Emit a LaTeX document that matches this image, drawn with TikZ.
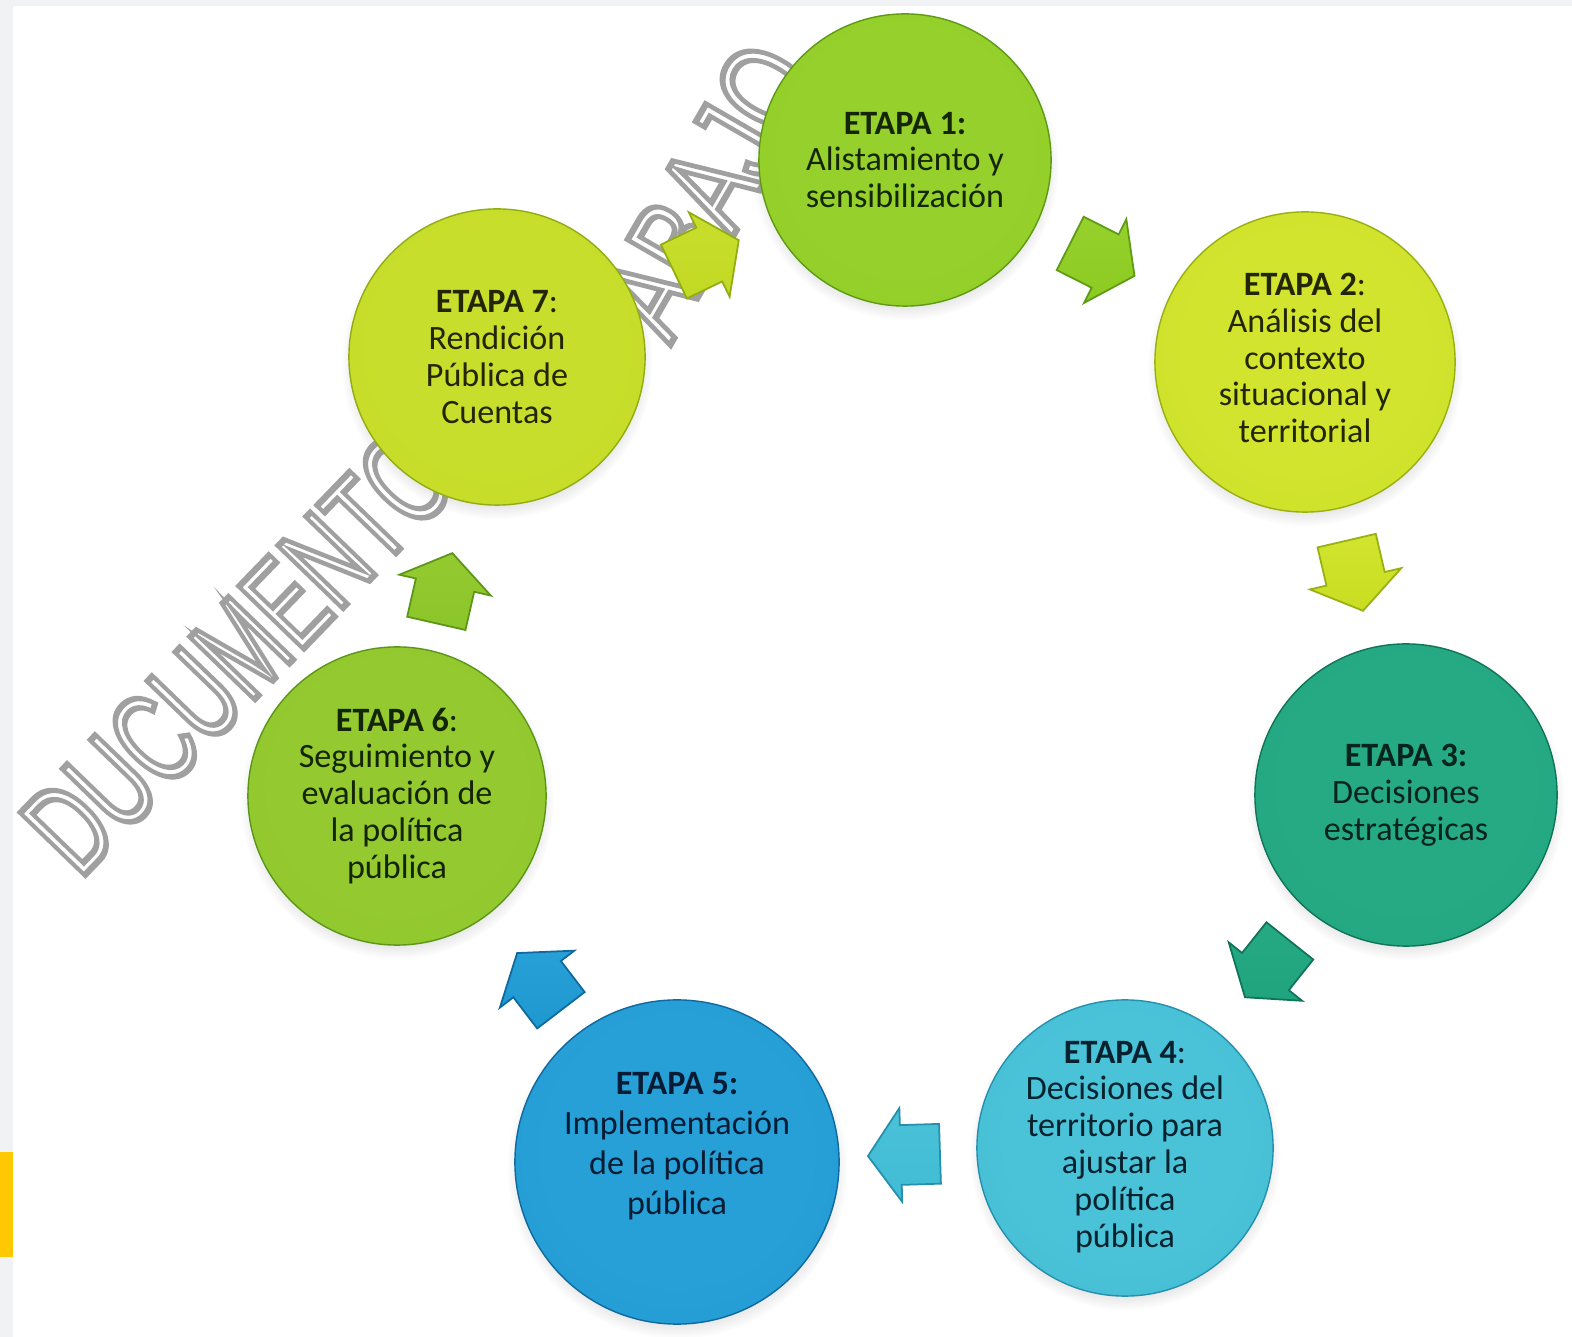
\documentclass[tikz,border=0pt]{standalone}
\usepackage{fontspec}
\setmainfont{Carlito}
\newfontfamily\wmfont{Liberation Sans}
\usetikzlibrary{shapes.arrows,shadows,calc}

\definecolor{pagegray}{HTML}{F1F2F4}
\definecolor{tabyellow}{HTML}{FFC800}
\definecolor{wmgray}{HTML}{A0A0A0}
% stage colours: light, base, dark, text
\definecolor{c1light}{HTML}{96D02C}\definecolor{c1base}{HTML}{8CCB22}\definecolor{c1dark}{HTML}{5E9A14}\definecolor{c1text}{HTML}{142606}
\definecolor{c2light}{HTML}{D2E42E}\definecolor{c2base}{HTML}{C9DE22}\definecolor{c2dark}{HTML}{98B010}\definecolor{c2text}{HTML}{222604}
\definecolor{c3light}{HTML}{26AA84}\definecolor{c3base}{HTML}{1FA47E}\definecolor{c3dark}{HTML}{0F7458}\definecolor{c3text}{HTML}{06241C}
\definecolor{c4light}{HTML}{4AC2D8}\definecolor{c4base}{HTML}{40BCD4}\definecolor{c4dark}{HTML}{2590AE}\definecolor{c4text}{HTML}{06222E}
\definecolor{c5light}{HTML}{26A0D6}\definecolor{c5base}{HTML}{1E98CE}\definecolor{c5dark}{HTML}{10699E}\definecolor{c5text}{HTML}{061C34}
\definecolor{c6light}{HTML}{94CA30}\definecolor{c6base}{HTML}{8CC52A}\definecolor{c6dark}{HTML}{5C9618}\definecolor{c6text}{HTML}{142406}
\definecolor{c7light}{HTML}{C8DE2C}\definecolor{c7base}{HTML}{C2DA24}\definecolor{c7dark}{HTML}{92AC12}\definecolor{c7text}{HTML}{222604}

\newcommand\ballshade[4]{\pgfdeclareradialshading{#1}{\pgfpoint{0bp}{3bp}}{color(0bp)=(#2); color(20bp)=(#2); color(42bp)=(#3); color(47.5bp)=(#4); color(50bp)=(#4)}}
\ballshade{ballA}{c1light}{c1base}{c1dark}
\ballshade{ballB}{c2light}{c2base}{c2dark}
\ballshade{ballC}{c3light}{c3base}{c3dark}
\ballshade{ballD}{c4light}{c4base}{c4dark}
\ballshade{ballE}{c5light}{c5base}{c5dark}
\ballshade{ballF}{c6light}{c6base}{c6dark}
\ballshade{ballG}{c7light}{c7base}{c7dark}

% outlined (stroked only) text for the watermark
\newcommand\outlinetext[1]{\special{pdf:literal direct 1 Tr 1.8 w}#1\special{pdf:literal direct 0 Tr}}

\tikzset{
  stage/.style={circle, minimum size=#1, inner sep=0pt, line width=0.4pt,
    circular drop shadow={shadow xshift=0cm, shadow yshift=-0.06cm, shadow scale=1.05, opacity=0.3}},
  stagetext/.style={align=center, inner sep=0pt, font=\fontsize{9.7}{10.5}\selectfont},
  flow/.style={single arrow, single arrow head extend=0.17cm, single arrow tip angle=110,
    minimum height=0.72cm, inner xsep=0pt, inner ysep=0.29cm, line width=0.5pt},
  wm/.style={inner sep=0pt, text=wmgray, font=\wmfont\fontsize{37}{37}\selectfont}
}

\begin{document}
\begin{tikzpicture}[x=0.01cm, y=-0.01cm]
\useasboundingbox (0,0) rectangle (1572,1337);
\clip (0,0) rectangle (1572,1337);
% page background
\fill[pagegray] (0,0) rectangle (1572,1337);
\fill[white] (13,6) rectangle (1572,1337);
\fill[tabyellow] (0,1152) rectangle (13,1257);

% watermark
\node[wm, rotate=46] (wm1) at (238,652) {\scalebox{0.65}[1]{\outlinetext{DUCUMENTO}}};
\node[wm, rotate=60] (wm2) at (708,190) {\scalebox{0.72}[1]{\outlinetext{ABAJO}}};

% stages
\node[stage=2.92cm, shading=ballA, draw=c1dark] (c1) at (905,160) {};
\node[stage=3.00cm, shading=ballB, draw=c2dark] (c2) at (1305,362) {};
\node[stage=3.02cm, shading=ballC, draw=c3dark] (c3) at (1406,795) {};
\node[stage=2.96cm, shading=ballD, draw=c4dark] (c4) at (1125,1148) {};
\node[stage=3.24cm, shading=ballE, draw=c5dark] (c5) at (677,1162) {};
\node[stage=2.98cm, shading=ballF, draw=c6dark] (c6) at (397,796) {};
\node[stage=2.96cm, shading=ballG, draw=c7dark] (c7) at (497,357) {};

\node[stagetext, text=c1text] (t1) at (c1) {\textbf{ETAPA 1:}\\Alistamiento y\\sensibilización};
\node[stagetext, text=c2text] (t2) at (1305,358) {\textbf{ETAPA 2}:\\Análisis del\\contexto\\situacional y\\territorial};
\node[stagetext, text=c3text] (t3) at (c3) {\textbf{ETAPA 3:}\\Decisiones\\estratégicas};
\node[stagetext, text=c4text] (t4) at (1125,1147) {\textbf{ETAPA 4}:\\Decisiones del\\territorio para\\ajustar la\\política\\pública};
\node[stagetext, text=c5text, font=\fontsize{9.7}{11.4}\selectfont] (t5) at (677,1146) {\textbf{ETAPA 5:}\\Implementación\\de la política\\pública};
\node[stagetext, text=c6text] (t6) at (c6) {\textbf{ETAPA 6}:\\Seguimiento y\\evaluación de\\la política\\pública};
\node[stagetext, text=c7text] (t7) at (c7) {\textbf{ETAPA 7}:\\Rendición\\Pública de\\Cuentas};

% block arrows between stages
\path let \p1=($(c1)-(c7)$), \n1={atan2(\y1,\x1)} in
  node[flow, rotate=\n1, draw=c7dark, top color=c7light, bottom color=c7base] (a71) at ($(c7)!0.49!(c1)$) {};
\path let \p1=($(c2)-(c1)$), \n1={atan2(\y1,\x1)} in
  node[flow, rotate=\n1, draw=c1dark, top color=c1light, bottom color=c1base] (a12) at ($(c1)!0.47!(c2)$) {};
\path let \p1=($(c3)-(c2)$), \n1={atan2(\y1,\x1)} in
  node[flow, rotate=\n1, draw=c2dark, top color=c2light, bottom color=c2base] (a23) at ($(c2)!0.47!(c3)$) {};
\path let \p1=($(c4)-(c3)$), \n1={atan2(\y1,\x1)} in
  node[flow, rotate=\n1, draw=c3dark, top color=c3light, bottom color=c3base] (a34) at ($(c3)!0.47!(c4)$) {};
\path let \p1=($(c5)-(c4)$), \n1={atan2(\y1,\x1)} in
  node[flow, rotate=\n1, draw=c4dark, top color=c4light, bottom color=c4base] (a45) at ($(c4)!0.47!(c5)$) {};
\path let \p1=($(c6)-(c5)$), \n1={atan2(\y1,\x1)} in
  node[flow, rotate=\n1, draw=c5dark, top color=c5light, bottom color=c5base] (a56) at ($(c5)!0.47!(c6)$) {};
\path let \p1=($(c7)-(c6)$), \n1={atan2(\y1,\x1)} in
  node[flow, rotate=\n1, draw=c6dark, top color=c6light, bottom color=c6base] (a67) at ($(c6)!0.45!(c7)$) {};
\end{tikzpicture}
\end{document}
